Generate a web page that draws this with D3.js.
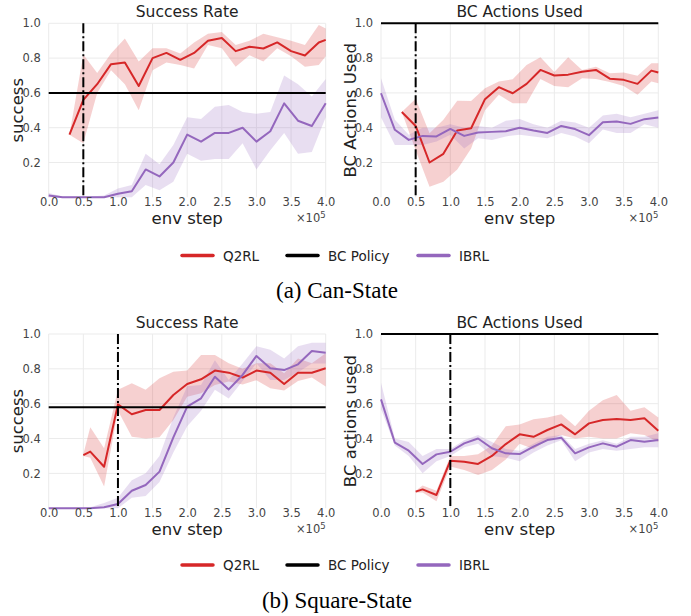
<!DOCTYPE html>
<html lang="en">
<head>
<meta charset="UTF-8" />
<title>Q2RL vs IBRL</title>
<script src="https://cdn.jsdelivr.net/npm/d3@7"></script>
<style>
  body { margin: 0; background: #fff; }
  svg { display: block; }
  .tick text { font-family: "DejaVu Sans", sans-serif; font-size: 11.5px; fill: #444; }
</style>
</head>
<body>
<script>
// ---- data ----
var xTicks = [0, 0.5, 1, 1.5, 2, 2.5, 3, 3.5, 4];
var yTicks = [0.2, 0.4, 0.6, 0.8, 1.0];
var ibrlX = [0,0.2,0.4,0.6,0.8,1.0,1.2,1.4,1.6,1.8,2.0,2.2,2.4,2.6,2.8,3.0,3.2,3.4,3.6,3.8,4.0];

// (a) Can-State
var canQ2rlX = [0.3,0.5,0.7,0.9,1.1,1.3,1.5,1.7,1.9,2.1,2.3,2.5,2.7,2.9,3.1,3.3,3.5,3.7,3.9,4.0];
var canSuccQ2rl   = [0.36,0.56,0.65,0.765,0.775,0.64,0.80,0.83,0.79,0.83,0.90,0.915,0.84,0.865,0.855,0.89,0.84,0.815,0.89,0.905];
var canSuccQ2rlLo = [0.36,0.31,0.60,0.73,0.65,0.50,0.73,0.775,0.76,0.74,0.875,0.856,0.75,0.817,0.78,0.856,0.81,0.75,0.76,0.81];
var canSuccQ2rlHi = [0.36,0.82,0.715,0.827,0.913,0.78,0.856,0.856,0.827,0.89,0.94,0.95,0.875,0.90,0.94,0.92,0.90,0.875,0.99,0.97];
var canSuccIbrl   = [0.01,0,0,0,0,0.02,0.035,0.16,0.12,0.20,0.36,0.32,0.37,0.37,0.40,0.32,0.38,0.54,0.44,0.41,0.54];
var canSuccIbrlLo = [0,0,0,0,0,0,0,0.07,0.04,0.09,0.25,0.21,0.22,0.22,0.31,0.16,0.27,0.37,0.25,0.26,0.46];
var canSuccIbrlHi = [0.025,0.005,0.005,0.005,0.01,0.05,0.07,0.25,0.19,0.30,0.46,0.45,0.52,0.53,0.49,0.48,0.49,0.70,0.65,0.58,0.68];
var canBcQ2rl   = [0.49,0.41,0.20,0.25,0.384,0.397,0.564,0.633,0.598,0.652,0.732,0.70,0.705,0.722,0.732,0.682,0.675,0.652,0.728,0.717];
var canBcQ2rlLo = [0.49,0.27,0.06,0.09,0.16,0.28,0.50,0.59,0.54,0.54,0.68,0.64,0.633,0.684,0.68,0.663,0.64,0.589,0.665,0.656];
var canBcQ2rlHi = [0.49,0.566,0.368,0.445,0.555,0.554,0.627,0.665,0.679,0.76,0.805,0.72,0.805,0.732,0.751,0.713,0.717,0.698,0.77,0.77];
var canBcIbrl   = [0.598,0.388,0.33,0.353,0.35,0.393,0.353,0.372,0.376,0.38,0.40,0.384,0.37,0.41,0.392,0.357,0.431,0.435,0.422,0.449,0.458];
var canBcIbrlLo = [0.46,0.30,0.30,0.30,0.32,0.36,0.28,0.34,0.33,0.35,0.36,0.35,0.34,0.37,0.35,0.31,0.39,0.37,0.37,0.42,0.40];
var canBcIbrlHi = [0.684,0.445,0.36,0.40,0.40,0.42,0.40,0.41,0.40,0.44,0.45,0.42,0.40,0.44,0.43,0.40,0.47,0.48,0.46,0.48,0.50];
var canBcPolicy = [0.6, 1.0];   // success, bc-actions
var canSwitch = 0.5;

// (b) Square-State
var sqQ2rlX = [0.5,0.6,0.8,1.0,1.2,1.4,1.6,1.8,2.0,2.2,2.4,2.6,2.8,3.0,3.2,3.4,3.6,3.8,4.0];
var sqSuccQ2rl   = [0.305,0.325,0.238,0.596,0.539,0.564,0.564,0.65,0.713,0.74,0.79,0.778,0.75,0.79,0.778,0.713,0.778,0.778,0.803];
var sqSuccQ2rlLo = [0.30,0.29,0.124,0.56,0.41,0.40,0.407,0.506,0.64,0.66,0.707,0.727,0.71,0.735,0.688,0.675,0.73,0.75,0.698];
var sqSuccQ2rlHi = [0.31,0.465,0.344,0.68,0.717,0.68,0.746,0.784,0.79,0.88,0.88,0.832,0.80,0.832,0.832,0.774,0.86,0.832,0.889];
var sqSuccIbrl   = [0,0,0,0,0.005,0.024,0.10,0.133,0.21,0.407,0.583,0.631,0.755,0.682,0.765,0.874,0.803,0.793,0.826,0.902,0.893];
var sqSuccIbrlLo = [0,0,0,0,0,0,0.06,0.07,0.15,0.32,0.47,0.56,0.68,0.63,0.73,0.832,0.736,0.736,0.78,0.83,0.83];
var sqSuccIbrlHi = [0,0,0,0.005,0.03,0.06,0.16,0.20,0.30,0.52,0.70,0.707,0.85,0.736,0.83,0.93,0.91,0.86,0.93,0.95,0.95];
var sqBcQ2rl   = [0.095,0.108,0.076,0.273,0.267,0.254,0.30,0.368,0.424,0.41,0.449,0.481,0.424,0.487,0.506,0.512,0.506,0.516,0.445];
var sqBcQ2rlLo = [0.09,0.09,0.04,0.24,0.22,0.19,0.22,0.28,0.37,0.34,0.39,0.42,0.40,0.41,0.40,0.40,0.43,0.42,0.38];
var sqBcQ2rlHi = [0.10,0.13,0.10,0.30,0.30,0.31,0.36,0.47,0.48,0.51,0.52,0.54,0.47,0.56,0.62,0.65,0.56,0.58,0.52];
var sqBcIbrl   = [0.625,0.376,0.33,0.254,0.309,0.324,0.372,0.40,0.344,0.315,0.311,0.353,0.391,0.405,0.315,0.349,0.372,0.353,0.391,0.382,0.391];
var sqBcIbrlLo = [0.57,0.36,0.30,0.20,0.27,0.30,0.35,0.37,0.30,0.29,0.27,0.32,0.36,0.39,0.27,0.32,0.34,0.33,0.34,0.35,0.35];
var sqBcIbrlHi = [0.72,0.40,0.38,0.30,0.34,0.34,0.39,0.42,0.38,0.34,0.33,0.37,0.41,0.42,0.34,0.37,0.39,0.37,0.41,0.41,0.43];
var sqBcPolicy = [0.58, 1.0];
var sqSwitch = 1.0;

var legendNames = ["Q2RL", "BC Policy", "IBRL"];
var captions = ["(a) Can-State", "(b) Square-State"];

var RED = "#d62728", PURPLE = "#9467bd", BLACK = "#000";

// ---- layout ----
var width = 691, height = 616;
var svg = d3.select("body").append("svg")
  .attr("width", width)
  .attr("height", height);

var cols = [{left: 48.7, right: 325.7}, {left: 381, right: 658.3}];
var rows = [{top: 23.3, bottom: 197.3}, {top: 334, bottom: 508.2}];

function zip(xs, m, lo, hi) {
  return xs.map(function(x, i) { return {x: x, m: m[i], lo: lo[i], hi: hi[i]}; });
}

function drawPanel(col, row, opt) {
  var x = d3.scaleLinear().domain([0, 4]).range([col.left, col.right]);
  var y = d3.scaleLinear().domain([0, 1]).range([row.bottom, row.top]);
  var g = svg.append("g");

  // grid
  g.selectAll(".vgrid").data(xTicks).enter().append("line")
    .attr("x1", function(d) { return x(d); }).attr("x2", function(d) { return x(d); })
    .attr("y1", row.top).attr("y2", row.bottom)
    .attr("stroke", "#ebebeb").attr("stroke-width", 1);
  g.selectAll(".hgrid").data(yTicks).enter().append("line")
    .attr("x1", col.left).attr("x2", col.right)
    .attr("y1", function(d) { return y(d); }).attr("y2", function(d) { return y(d); })
    .attr("stroke", "#ebebeb").attr("stroke-width", 1);

  var area = d3.area()
    .x(function(d) { return x(d.x); })
    .y0(function(d) { return y(d.lo); })
    .y1(function(d) { return y(d.hi); });
  var line = d3.line()
    .x(function(d) { return x(d.x); })
    .y(function(d) { return y(d.m); });

  opt.series.forEach(function(s) {
    g.append("path").datum(s.data).attr("d", area)
      .attr("fill", s.color).attr("fill-opacity", 0.22).attr("stroke", "none");
  });
  opt.series.forEach(function(s) {
    g.append("path").datum(s.data).attr("d", line)
      .attr("fill", "none").attr("stroke", s.color).attr("stroke-width", 2)
      .attr("stroke-linejoin", "round");
  });

  // bc policy level
  g.append("line")
    .attr("x1", col.left).attr("x2", col.right)
    .attr("y1", y(opt.bc)).attr("y2", y(opt.bc))
    .attr("stroke", BLACK).attr("stroke-width", 2);

  // switch step
  g.append("line")
    .attr("x1", x(opt.sw)).attr("x2", x(opt.sw))
    .attr("y1", row.top).attr("y2", row.bottom)
    .attr("stroke", BLACK).attr("stroke-width", 2)
    .attr("stroke-dasharray", "10,3,2,3");

  // axes
  var xAxis = d3.axisBottom(x).tickValues(xTicks).tickSize(0).tickPadding(1)
    .tickFormat(d3.format(".1f"));
  g.append("g").attr("transform", "translate(0," + row.bottom + ")").call(xAxis)
    .call(function(a) { a.select(".domain").remove(); });
  var yAxis = d3.axisLeft(y).tickValues(yTicks).tickSize(0).tickPadding(8)
    .tickFormat(d3.format(".1f"));
  g.append("g").attr("transform", "translate(" + col.left + ",0)").call(yAxis)
    .call(function(a) { a.select(".domain").remove(); });

  var cx = (col.left + col.right) / 2;
  g.append("text").attr("x", cx).attr("y", row.top - 6)
    .attr("text-anchor", "middle")
    .style("font-family", "'DejaVu Sans', sans-serif").style("font-size", "15.5px").style("fill", "#222")
    .text(opt.title);
  g.append("text").attr("x", cx).attr("y", row.bottom + 27)
    .attr("text-anchor", "middle")
    .style("font-family", "'DejaVu Sans', sans-serif").style("font-size", "16.5px").style("fill", "#222")
    .text("env step");
  var exp = g.append("text").attr("x", col.right).attr("y", row.bottom + 25)
    .attr("text-anchor", "end")
    .style("font-family", "'DejaVu Sans', sans-serif").style("font-size", "11.5px").style("fill", "#444");
  exp.append("tspan").text("\u00d710");
  exp.append("tspan").attr("dy", -4.5).style("font-size", "8.5px").text("5");
  g.append("text")
    .attr("transform", "translate(" + (col.left - 25.5) + "," + ((row.top + row.bottom) / 2) + ") rotate(-90)")
    .attr("text-anchor", "middle")
    .style("font-family", "'DejaVu Sans', sans-serif").style("font-size", "16.5px").style("fill", "#222")
    .text(opt.ylabel);
}

function drawLegend(cy, caption, capY) {
  var items = [
    {name: legendNames[0], color: RED, x0: 182},
    {name: legendNames[1], color: BLACK, x0: 287},
    {name: legendNames[2], color: PURPLE, x0: 418}
  ];
  var lg = svg.append("g");
  items.forEach(function(it) {
    lg.append("line").attr("x1", it.x0).attr("x2", it.x0 + 31)
      .attr("y1", cy).attr("y2", cy)
      .attr("stroke", it.color).attr("stroke-width", 3.5).attr("stroke-linecap", "round");
    lg.append("text").attr("x", it.x0 + 41).attr("y", cy + 5)
      .style("font-family", "'DejaVu Sans', sans-serif").style("font-size", "13.5px").style("fill", "#222")
      .text(it.name);
  });
  svg.append("text").attr("x", 337).attr("y", capY)
    .attr("text-anchor", "middle")
    .style("font-family", "'Liberation Serif', serif").style("font-size", "23px").style("fill", "#000")
    .text(caption);
}

drawPanel(cols[0], rows[0], {
  title: "Success Rate", ylabel: "success", bc: canBcPolicy[0], sw: canSwitch,
  series: [
    {color: RED, data: zip(canQ2rlX, canSuccQ2rl, canSuccQ2rlLo, canSuccQ2rlHi)},
    {color: PURPLE, data: zip(ibrlX, canSuccIbrl, canSuccIbrlLo, canSuccIbrlHi)}
  ]
});
drawPanel(cols[1], rows[0], {
  title: "BC Actions Used", ylabel: "BC Actions Used", bc: canBcPolicy[1], sw: canSwitch,
  series: [
    {color: RED, data: zip(canQ2rlX, canBcQ2rl, canBcQ2rlLo, canBcQ2rlHi)},
    {color: PURPLE, data: zip(ibrlX, canBcIbrl, canBcIbrlLo, canBcIbrlHi)}
  ]
});
drawPanel(cols[0], rows[1], {
  title: "Success Rate", ylabel: "success", bc: sqBcPolicy[0], sw: sqSwitch,
  series: [
    {color: RED, data: zip(sqQ2rlX, sqSuccQ2rl, sqSuccQ2rlLo, sqSuccQ2rlHi)},
    {color: PURPLE, data: zip(ibrlX, sqSuccIbrl, sqSuccIbrlLo, sqSuccIbrlHi)}
  ]
});
drawPanel(cols[1], rows[1], {
  title: "BC Actions Used", ylabel: "BC actions used", bc: sqBcPolicy[1], sw: sqSwitch,
  series: [
    {color: RED, data: zip(sqQ2rlX, sqBcQ2rl, sqBcQ2rlLo, sqBcQ2rlHi)},
    {color: PURPLE, data: zip(ibrlX, sqBcIbrl, sqBcIbrlLo, sqBcIbrlHi)}
  ]
});

drawLegend(255.5, captions[0], 298);
drawLegend(565, captions[1], 608);
</script>
</body>
</html>
